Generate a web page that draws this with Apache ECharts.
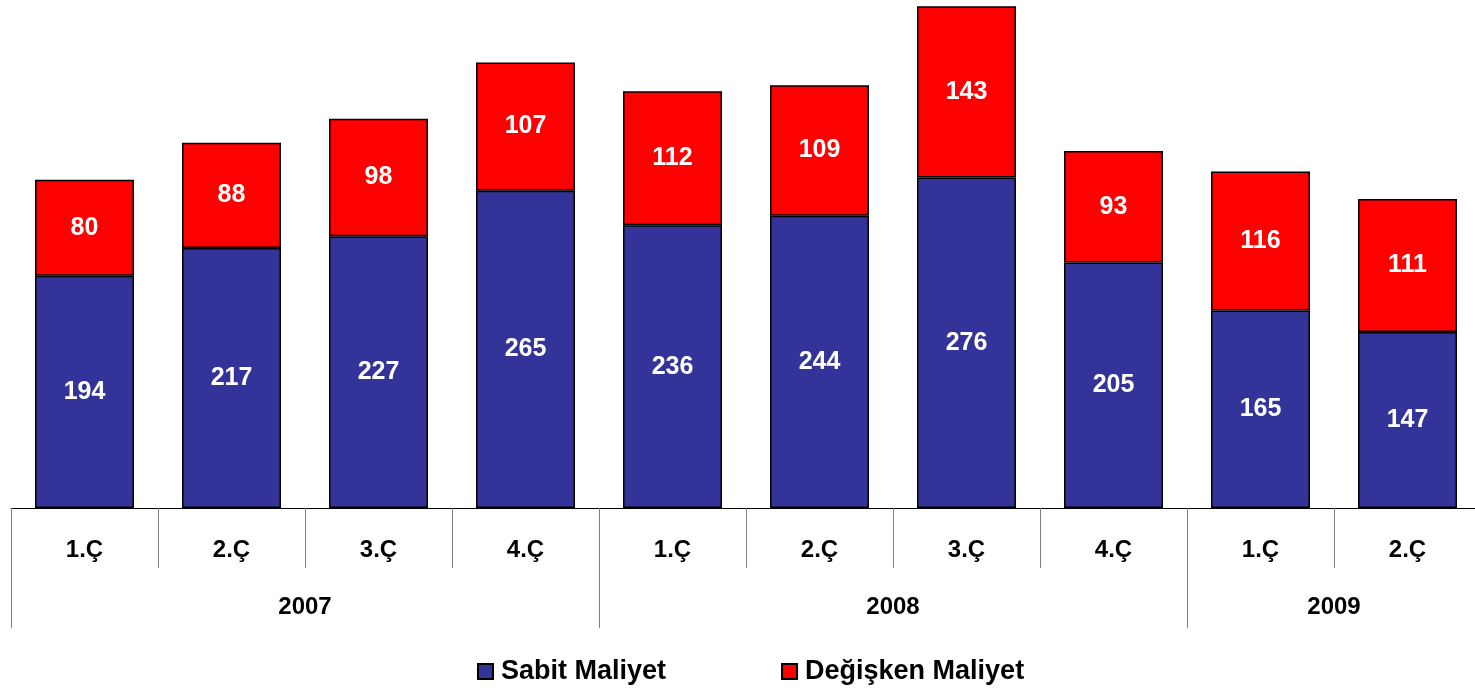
<!DOCTYPE html>
<html>
<head>
<meta charset="utf-8">
<script src="https://cdn.jsdelivr.net/npm/echarts@6/dist/echarts.min.js"></script>
<style>
  html, body { margin: 0; padding: 0; background: #fff; }
  #chart { width: 1475px; height: 691px; }
</style>
</head>
<body>
<div id="chart"></div>
<script>
// Quarterly cost breakdown, 2007 Q1 – 2009 Q2
const quarters = ['1.Ç', '2.Ç', '3.Ç', '4.Ç', '1.Ç', '2.Ç', '3.Ç', '4.Ç', '1.Ç', '2.Ç'];
const years = ['2007', '2008', '2009'];
const yearSpans = [4, 4, 2];               // number of quarters per year
const fixedCost = [194, 217, 227, 265, 236, 244, 276, 205, 165, 147];
const variableCost = [80, 88, 98, 107, 112, 109, 143, 93, 116, 111];
const seriesNames = ['Sabit Maliyet', 'Değişken Maliyet'];

// Year group boundaries and centres on a 0..N value scale
const yearBounds = [0];
const yearCentres = [];
yearSpans.forEach((s, i) => {
  const start = yearBounds[yearBounds.length - 1];
  yearCentres.push(start + s / 2);
  yearBounds.push(start + s);
});

const FONT = 'Liberation Sans, Arial, sans-serif';
const chart = echarts.init(document.getElementById('chart'));

const valueLabel = {
  show: true,
  position: 'inside',
  color: '#fff',
  fontFamily: FONT,
  fontWeight: 'bold',
  fontSize: 25
};

chart.setOption({
  animation: false,
  grid: { left: 11, right: -6, top: 5, bottom: 183, containLabel: false, outerBoundsMode: 'none' },
  legend: {
    bottom: 1,
    left: 472,
    icon: 'rect',
    itemWidth: 15,
    itemHeight: 15,
    itemGap: 115,
    textStyle: { fontFamily: FONT, fontWeight: 'bold', fontSize: 27, color: '#000', padding: [0, 0, 0, 3] },
    data: seriesNames
  },
  xAxis: [
    {
      type: 'category',
      data: quarters,
      position: 'bottom',
      axisLine: { show: true, lineStyle: { color: '#000', width: 1 } },
      axisTick: { show: true, interval: 0, length: 60, lineStyle: { color: '#808080', width: 1 } },
      axisLabel: { interval: 0, margin: 30, fontFamily: FONT, fontWeight: 'bold', fontSize: 24, color: '#000' },
      splitLine: { show: false }
    },
    {
      type: 'value',
      min: 0,
      max: quarters.length,
      position: 'bottom',
      axisLine: { show: false },
      axisTick: { show: true, customValues: yearBounds.slice(0, -1), length: 120, lineStyle: { color: '#808080', width: 1 } },
      axisLabel: {
        customValues: yearCentres,
        margin: 87,
        fontFamily: FONT, fontWeight: 'bold', fontSize: 24, color: '#000',
        formatter: v => years[yearCentres.indexOf(v)]
      },
      splitLine: { show: false }
    }
  ],
  yAxis: { type: 'value', min: 0, max: 420, show: false, splitLine: { show: false } },
  series: [
    {
      name: seriesNames[0],
      type: 'bar',
      stack: 'cost',
      xAxisIndex: 0,
      barWidth: 99,
      data: fixedCost,
      itemStyle: { color: '#333399', borderColor: '#000', borderWidth: 1.5 },
      label: valueLabel
    },
    {
      name: seriesNames[1],
      type: 'bar',
      stack: 'cost',
      xAxisIndex: 0,
      barWidth: 99,
      data: variableCost,
      itemStyle: { color: '#FF0000', borderColor: '#000', borderWidth: 1.5 },
      label: valueLabel
    }
  ]
});
</script>
</body>
</html>
